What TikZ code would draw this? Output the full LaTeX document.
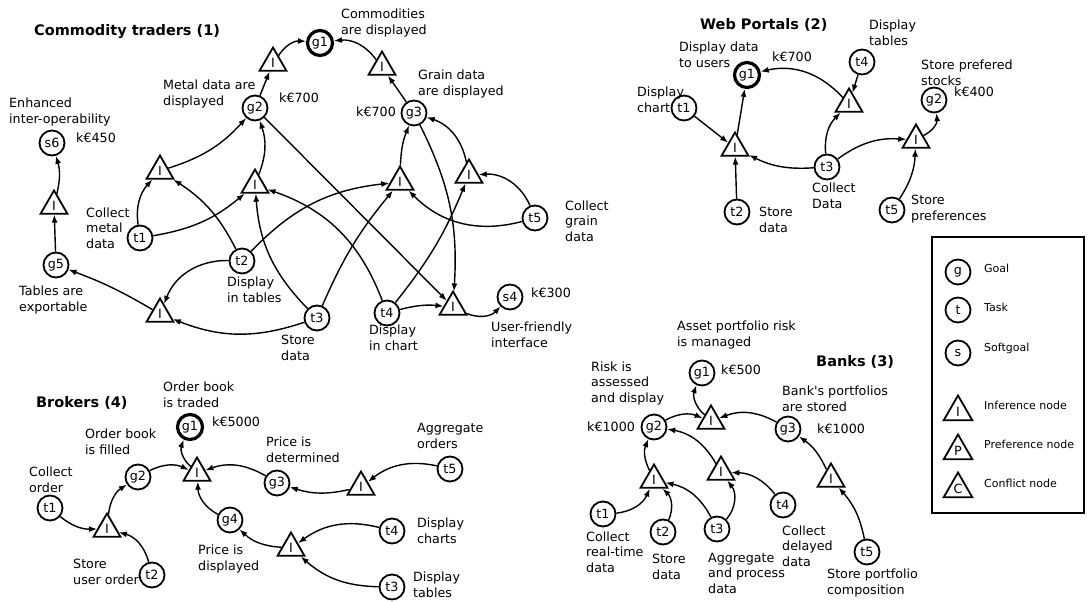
\documentclass[tikz,border=0pt]{standalone}
\usepackage{fontspec}
\setmainfont{DejaVu Sans}[Ligatures=TeXOff]
\usetikzlibrary{arrows.meta, shapes.geometric, fit}

\tikzset{
  goal/.style={circle, draw, line width=1.8pt, minimum size=25pt, inner sep=1pt},
  topgoal/.style={goal, line width=3.2pt},
  infer/.style={regular polygon, regular polygon sides=3, draw, line width=1.8pt,
                minimum size=31pt, inner sep=0pt},
  lbl/.style={anchor=west, align=left, inner sep=0pt},
  heading/.style={anchor=west, inner sep=0pt, font=\fontsize{14.5}{17}\selectfont\bfseries},
  legtext/.style={anchor=west, inner sep=0pt, font=\fontsize{11}{13}\selectfont},
}

\begin{document}
\begin{tikzpicture}[x=1pt, y=-1pt, font=\fontsize{12.7}{15.5}\selectfont]
\useasboundingbox (0,0) rectangle (1088,602);

% Commodity traders (1)
\node (ctitle) [heading] at (34,32) {Commodity traders (1)};
\node (cg1) at (320,43) [topgoal] {g1};
\node (cg2) at (255,108) [goal] {g2};
\node (cg3) at (414,113) [goal] {g3};
\node (cg5) at (56,265) [goal] {g5};
\node (cs4) at (510,297) [goal] {s4};
\node (cs6) at (52,143) [goal] {s6};
\node (ct1) at (140,238) [goal] {t1};
\node (ct2) at (242,261) [goal] {t2};
\node (ct3) at (317,318) [goal] {t3};
\node (ct4) at (387,313) [goal] {t4};
\node (ct5) at (535,218) [goal] {t5};

\node (ci1) at (273,63) [infer] {I};
\node (ci2) at (382,67) [infer] {I};
\node (ci3) at (160,171) [infer] {I};
\node (ci4) at (255,185) [infer] {I};
\node (ci5) at (400,182) [infer] {I};
\node (ci6) at (469,175) [infer] {I};
\node (ci7) at (160,314) [infer] {I};
\node (ci8) at (453,307) [infer] {I};
\node (ci9) at (54,206) [infer] {I};

\node (cl1) [lbl] at (9,112) {Enhanced\\inter-operability};
\node (cl2) [lbl] at (76,138) {k€450};
\node (cl3) [lbl] at (163,94) {Metal data are\\displayed};
\node (cl4) [lbl] at (279,98) {k€700};
\node (cl5) [lbl] at (341,23) {Commodities\\are displayed};
\node (cl6) [lbl] at (418,84) {Grain data\\are displayed};
\node (cl7) [lbl] at (356,112) {k€700};
\node (cl8) [lbl] at (86,228) {Collect\\metal\\data};
\node (cl9) [lbl] at (19,300) {Tables are\\exportable};
\node (cl10) [lbl] at (227,290) {Display\\in tables};
\node (cl11) [lbl] at (281,348) {Store\\data};
\node (cl12) [lbl] at (369,338) {Display\\in chart};
\node (cl13) [lbl] at (491,335) {User-friendly\\interface};
\node (cl14) [lbl] at (531,293) {k€300};
\node (cl15) [lbl] at (565,221) {Collect\\grain\\data};

% Web Portals (2)
\node (wtitle) [heading] at (700,25) {Web Portals (2)};
\node (wg1) at (747,75) [topgoal] {g1};
\node (wg2) at (934,100) [goal] {g2};
\node (wt1) at (684,108) [goal] {t1};
\node (wt2) at (737,212) [goal] {t2};
\node (wt3) at (827,167) [goal] {t3};
\node (wt4) at (862,62) [goal] {t4};
\node (wt5) at (892,210) [goal] {t5};

\node (wi1) at (735,148) [infer] {I};
\node (wi2) at (849,104) [infer] {I};
\node (wi3) at (916,140) [infer] {I};

\node (wl1) [lbl] at (679,55) {Display data\\to users};
\node (wl2) [lbl] at (772,57) {k€700};
\node (wl3) [lbl] at (637,100) {Display\\chart};
\node (wl4) [lbl] at (759,220) {Store\\data};
\node (wl5) [lbl] at (812,196) {Collect\\Data};
\node (wl6) [lbl] at (869,33) {Display\\tables};
\node (wl7) [lbl] at (921,73) {Store prefered\\stocks};
\node (wl8) [lbl] at (954,92) {k€400};
\node (wl9) [lbl] at (911,209) {Store\\preferences};

% Brokers (4)
\node (btitle) [heading] at (36,403) {Brokers (4)};
\node (bg1) at (190,427) [topgoal] {g1};
\node (bg2) at (138,477) [goal] {g2};
\node (bg3) at (277,483) [goal] {g3};
\node (bg4) at (230,520) [goal] {g4};
\node (bt1) at (50,508) [goal] {t1};
\node (bt2) at (152,575) [goal] {t2};
\node (bt3) at (392,587) [goal] {t3};
\node (bt4) at (392,531) [goal] {t4};
\node (bt5) at (450,469) [goal] {t5};

\node (bi1) at (197,473) [infer] {I};
\node (bi2) at (107,529) [infer] {I};
\node (bi3) at (361,487) [infer] {I};
\node (bi4) at (291,548) [infer] {I};

\node (bl1) [lbl] at (163,395) {Order book\\is traded};
\node (bl2) [lbl] at (212,422) {k€5000};
\node (bl3) [lbl] at (85,442) {Order book\\is filled};
\node (bl4) [lbl] at (29,480) {Collect\\order};
\node (bl5) [lbl] at (73,572) {Store\\user order};
\node (bl6) [lbl] at (198,559) {Price is\\displayed};
\node (bl7) [lbl] at (266,450) {Price is\\determined};
\node (bl8) [lbl] at (417,436) {Aggregate\\orders};
\node (bl9) [lbl] at (417,531) {Display\\charts};
\node (bl10) [lbl] at (413,585) {Display\\tables};

% Banks (3)
\node (ktitle) [heading] at (816,362) {Banks (3)};
\node (kg1) at (702,373) [goal] {g1};
\node (kg2) at (654,427) [goal] {g2};
\node (kg3) at (788,429) [goal] {g3};
\node (kt1) at (603,514) [goal] {t1};
\node (kt2) at (663,532) [goal] {t2};
\node (kt3) at (717,529) [goal] {t3};
\node (kt4) at (783,505) [goal] {t4};
\node (kt5) at (867,552) [goal] {t5};

\node (ki1) at (711,421) [infer] {I};
\node (ki2) at (654,480) [infer] {I};
\node (ki3) at (721,472) [infer] {I};
\node (ki4) at (831,479) [infer] {I};

\node (kl1) [lbl] at (677,335) {Asset portfolio risk\\is managed};
\node (kl2) [lbl] at (721,370) {k€500};
\node (kl3) [lbl] at (591,383) {Risk is\\assessed\\and display};
\node (kl4) [lbl] at (587,427) {k€1000};
\node (kl5) [lbl] at (817,429) {k€1000};
\node (kl6) [lbl] at (782,399) {Bank's portfolios\\are stored};
\node (kl7) [lbl] at (586,552) {Collect\\real-time\\data};
\node (kl8) [lbl] at (652,567) {Store\\data};
\node (kl9) [lbl] at (708,573) {Aggregate\\and process\\data};
\node (kl10) [lbl] at (782,546) {Collect\\delayed\\data};
\node (kl11) [lbl] at (827,583) {Store portfolio\\composition};

% legend
\node (legend) [draw, line width=1.8pt, inner sep=0pt, fit={(932,237) (1084,513)}] {};
\node (lg) at (958,272) [goal] {g};
\node (lt) at (958,310) [goal] {t};
\node (ls) at (958,353) [goal] {s};
\node (li) at (958,412) [infer, minimum size=33pt] {I};
\node (lp) at (958,451) [infer, minimum size=33pt] {P};
\node (lc) at (958,489) [infer, minimum size=33pt] {C};
\node (lgt) [legtext] at (984,268) {Goal};
\node (ltt) [legtext] at (984,307) {Task};
\node (lst) [legtext] at (984,348) {Softgoal};
\node (lit) [legtext] at (984,405) {Inference node};
\node (lpt) [legtext] at (984,444) {Preference node};
\node (lct) [legtext] at (984,483) {Conflict node};

\begin{scope}[>={Latex[length=8pt,width=6pt]},
              every edge/.style={draw, line width=1.4pt}]
    % commodity traders
    \path [->] (ci1) edge [bend left=30] (cg1);
    \path [->] (ci2) edge [bend right=30] (cg1);
    \path [->] (cg2) edge (ci1);
    \path [->] (cg3) edge (ci2);
    \path [->] (ci9) edge [bend right=15] (cs6);
    \path [->] (cg5) edge (ci9);
    \path [->] (ci7) edge [bend right=5] (cg5);
    \path [->] (ct2) edge [bend right=35] (ci7);
    \path [->] (ct3) edge [bend left=20] (ci7);
    \path [->] (ct1) edge [bend left=25] (ci3);
    \path [->] (ct2) edge [bend right=15] (ci3);
    \path [->] (ci3) edge [bend right=15] (cg2);
    \path [->] (ct1) edge [bend right=15] (ci4);
    \path [->] (ci4) edge [bend right=20] (cg2);
    \path [->] (ct3) edge [bend left=20] (ci4);
    \path [->] (ct4) edge [bend right=25] (ci4);
    \path [->] (ct2) edge [bend left=20] (ci5);
    \path [->] (ct3) edge [bend left=8] (ci5);
    \path [->] (ci5) edge [bend left=10] (cg3);
    \path [->] (ct5) edge [bend left=30] (ci5);
    \path [->] (ct5) edge [bend right=35] (ci6);
    \path [->] (ci6) edge [bend right=30] (cg3);
    \path [->] (ct4) edge [bend right=8] (ci6);
    \path [->] (cg2) edge (ci8);
    \path [->] (cg3) edge [bend left=15] (ci8);
    \path [->] (ct4) edge [bend left=10] (ci8);
    \path [->] (ci8) edge [bend right=35] (cs4);

    % web portals
    \path [->] (wt1) edge (wi1);
    \path [->] (wi1) edge (wg1);
    \path [->] (wt2) edge (wi1);
    \path [->] (wt3) edge [bend left=15] (wi1);
    \path [->] (wt3) edge [bend left=25] (wi2);
    \path [->] (wt4) edge (wi2);
    \path [->] (wi2) edge [bend right=30] (wg1);
    \path [->] (wt3) edge [bend left=20] (wi3);
    \path [->] (wi3) edge [bend right=35] (wg2);
    \path [->] (wt5) edge [bend right=15] (wi3);

    % brokers
    \path [->] (bt1) edge [bend right=20] (bi2);
    \path [->] (bt2) edge [bend right=30] (bi2);
    \path [->] (bi2) edge [bend left=25] (bg2);
    \path [->] (bg2) edge [bend left=25] (bi1);
    \path [->] (bi1) edge [bend left=35] (bg1);
    \path [->] (bg3) edge [bend right=25] (bi1);
    \path [->] (bi3) edge [bend left=15] (bg3);
    \path [->] (bt5) edge [bend right=25] (bi3);
    \path [->] (bg4) edge [bend left=30] (bi1);
    \path [->] (bi4) edge [bend left=20] (bg4);
    \path [->] (bt4) edge [bend right=25] (bi4);
    \path [->] (bt3) edge [bend left=20] (bi4);

    % banks
    \path [->] (ki1) edge [bend left=35] (kg1);
    \path [->] (kg2) edge [bend left=25] (ki1);
    \path [->] (kg3) edge [bend right=25] (ki1);
    \path [->] (ki2) edge [bend left=25] (kg2);
    \path [->] (kt1) edge [bend right=30] (ki2);
    \path [->] (kt2) edge [bend right=35] (ki2);
    \path [->] (kt3) edge [bend right=25] (ki2);
    \path [->] (kt3) edge [bend right=40] (ki3);
    \path [->] (ki3) edge [bend right=25] (kg2);
    \path [->] (kt4) edge [bend right=25] (ki3);
    \path [->] (kt5) edge [bend right=15] (ki4);
    \path [->] (ki4) edge [bend right=15] (kg3);
\end{scope}

\end{tikzpicture}
\end{document}
